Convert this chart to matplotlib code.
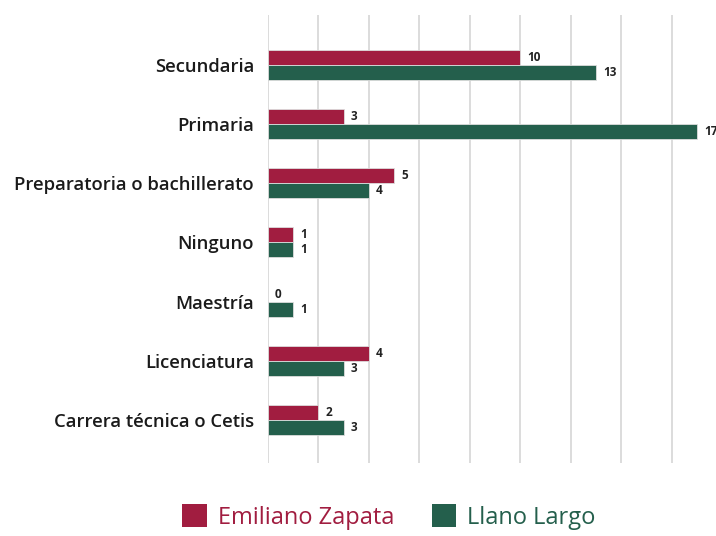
import matplotlib.pyplot as plt
import numpy as np
from matplotlib.patches import Patch

categorias = ["Secundaria", "Primaria", "Preparatoria o bachillerato", "Ninguno",
              "Maestría", "Licenciatura", "Carrera técnica o Cetis"]
emiliano_zapata = [10, 3, 5, 1, 0, 4, 2]
llano_largo = [13, 17, 4, 1, 1, 3, 3]
series = ["Emiliano Zapata", "Llano Largo"]
colores = ["#A11D40", "#245F4C"]

plt.rcParams['font.family'] = ['Open Sans', 'DejaVu Sans']

fig = plt.figure(figsize=(7.16, 5.36), dpi=100)
ax = fig.add_axes([268 / 716, (536 - 463) / 536, (716 - 268) / 716, (463 - 15) / 536])

y = np.arange(len(categorias))
h = 0.255
b1 = ax.barh(y - h / 2, emiliano_zapata, height=h, color=colores[0],
             edgecolor="#dddddd", linewidth=0.6, zorder=3)
b2 = ax.barh(y + h / 2, llano_largo, height=h, color=colores[1],
             edgecolor="#dddddd", linewidth=0.6, zorder=3)

for bars in (b1, b2):
    for rect in bars:
        w = rect.get_width()
        ax.annotate(f"{w:g}", (w, rect.get_y() + rect.get_height() / 2),
                    xytext=(5, 0), textcoords="offset points", va="center",
                    ha="left", fontsize=8.5, fontweight="bold", color="#222222",
                    annotation_clip=False)

ax.set_xlim(0, 17.75)
ax.set_ylim(6.73, -0.845)
ax.set_xticks(np.arange(0, 18, 2))
ax.xaxis.grid(True, color="#d9d9d9", linewidth=1.3, zorder=0)
ax.tick_params(axis="x", length=0, labelbottom=False)
ax.tick_params(axis="y", length=0, pad=10)
ax.set_yticks(y)
ax.set_yticklabels(categorias, fontsize=13.3, fontweight=600, color="#1a1a1a")
for s in ax.spines.values():
    s.set_visible(False)

handles = [Patch(facecolor=c) for c in colores]
leg = fig.legend(handles, series, loc="lower center", bbox_to_anchor=(0.543, -0.028),
                 ncol=2, frameon=False, fontsize=17, handlelength=1.05,
                 handleheight=1.1, handletextpad=0.45, columnspacing=1.6)
for t, c in zip(leg.get_texts(), colores):
    t.set_color(c)

fig.savefig("out.png", dpi=100)
